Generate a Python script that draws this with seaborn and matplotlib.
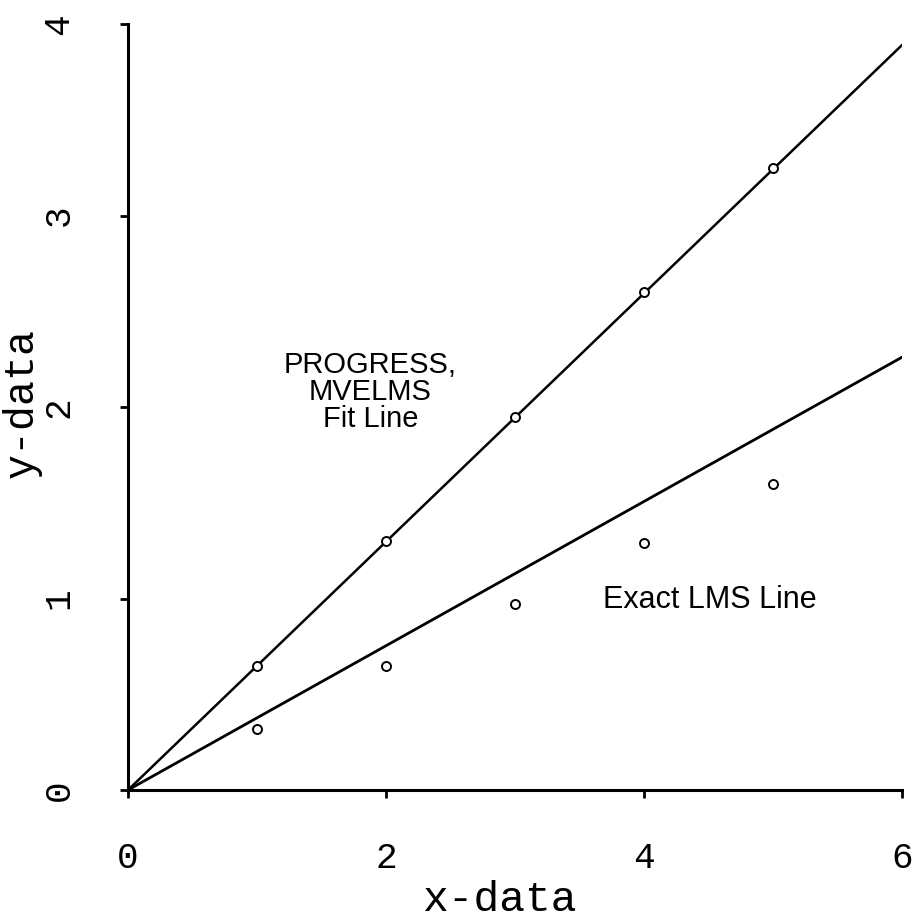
import matplotlib
matplotlib.use("Agg")
import matplotlib.pyplot as plt
import seaborn as sns
import pandas as pd

# Data
x_pts = [1, 2, 3, 4, 5]
y_upper_pts = [0.65, 1.30, 1.95, 2.60, 3.25]
y_lower_pts = [0.32, 0.65, 0.97, 1.29, 1.60]
x_line = [0, 6]
y_progress_line = [0, 3.89]
y_lms_line = [0, 2.26]
x_ticks = [0, 2, 4, 6]
y_ticks = [0, 1, 2, 3, 4]

sns.set_style("ticks")
plt.rcParams['font.family'] = ['Liberation Mono', 'DejaVu Sans']
plt.rcParams['text.color'] = 'black'
plt.rcParams['axes.labelcolor'] = 'black'

fig = plt.figure(figsize=(9.18, 9.24), dpi=100)
ax = fig.add_axes([128/918, 1 - 790/924, (902-128)/918, (790-24)/924])

lines = pd.DataFrame({"x": x_line, "prog": y_progress_line, "lms": y_lms_line})
pts = pd.DataFrame({"x": x_pts + x_pts, "y": y_upper_pts + y_lower_pts})

sns.lineplot(data=lines, x="x", y="prog", ax=ax, color="black", linewidth=1.8)
sns.lineplot(data=lines, x="x", y="lms", ax=ax, color="black", linewidth=2.0)
sns.scatterplot(data=pts, x="x", y="y", ax=ax, marker="o", s=42,
                facecolor="white", edgecolor="black", linewidth=1.4, zorder=3)

ax.set_xlim(0, 6)
ax.set_ylim(0, 4)
ax.set_xticks(x_ticks)
ax.set_yticks(y_ticks)
ax.set_xticklabels([str(t) for t in x_ticks], fontsize=26)
ax.set_yticklabels([str(t) for t in y_ticks], fontsize=26, rotation=90, va="center")
ax.tick_params(axis="x", direction="out", length=6, width=2, pad=31, colors="black")
ax.tick_params(axis="y", direction="out", length=6, width=2, pad=31, colors="black")

for side in ["top", "right"]:
    ax.spines[side].set_visible(False)
for side in ["left", "bottom"]:
    ax.spines[side].set_linewidth(2.2)
    ax.spines[side].set_color("black")

ax.set_xlabel("x-data", fontsize=31, color="black")
ax.set_ylabel("y-data", fontsize=30, color="black")
ax.xaxis.set_label_coords(0.48, -0.117)
ax.yaxis.set_label_coords(-0.111, 0.505)

ax.text(1.88, 2.08, "PROGRESS,\nMVELMS\nFit Line", ha="center", va="center",
        fontsize=21, family="Liberation Sans", linespacing=0.95, color="black")
ax.text(4.51, 0.99, "Exact LMS Line", ha="center", va="center",
        fontsize=22, family="Liberation Sans", color="black")

fig.savefig("out.png", dpi=100)
